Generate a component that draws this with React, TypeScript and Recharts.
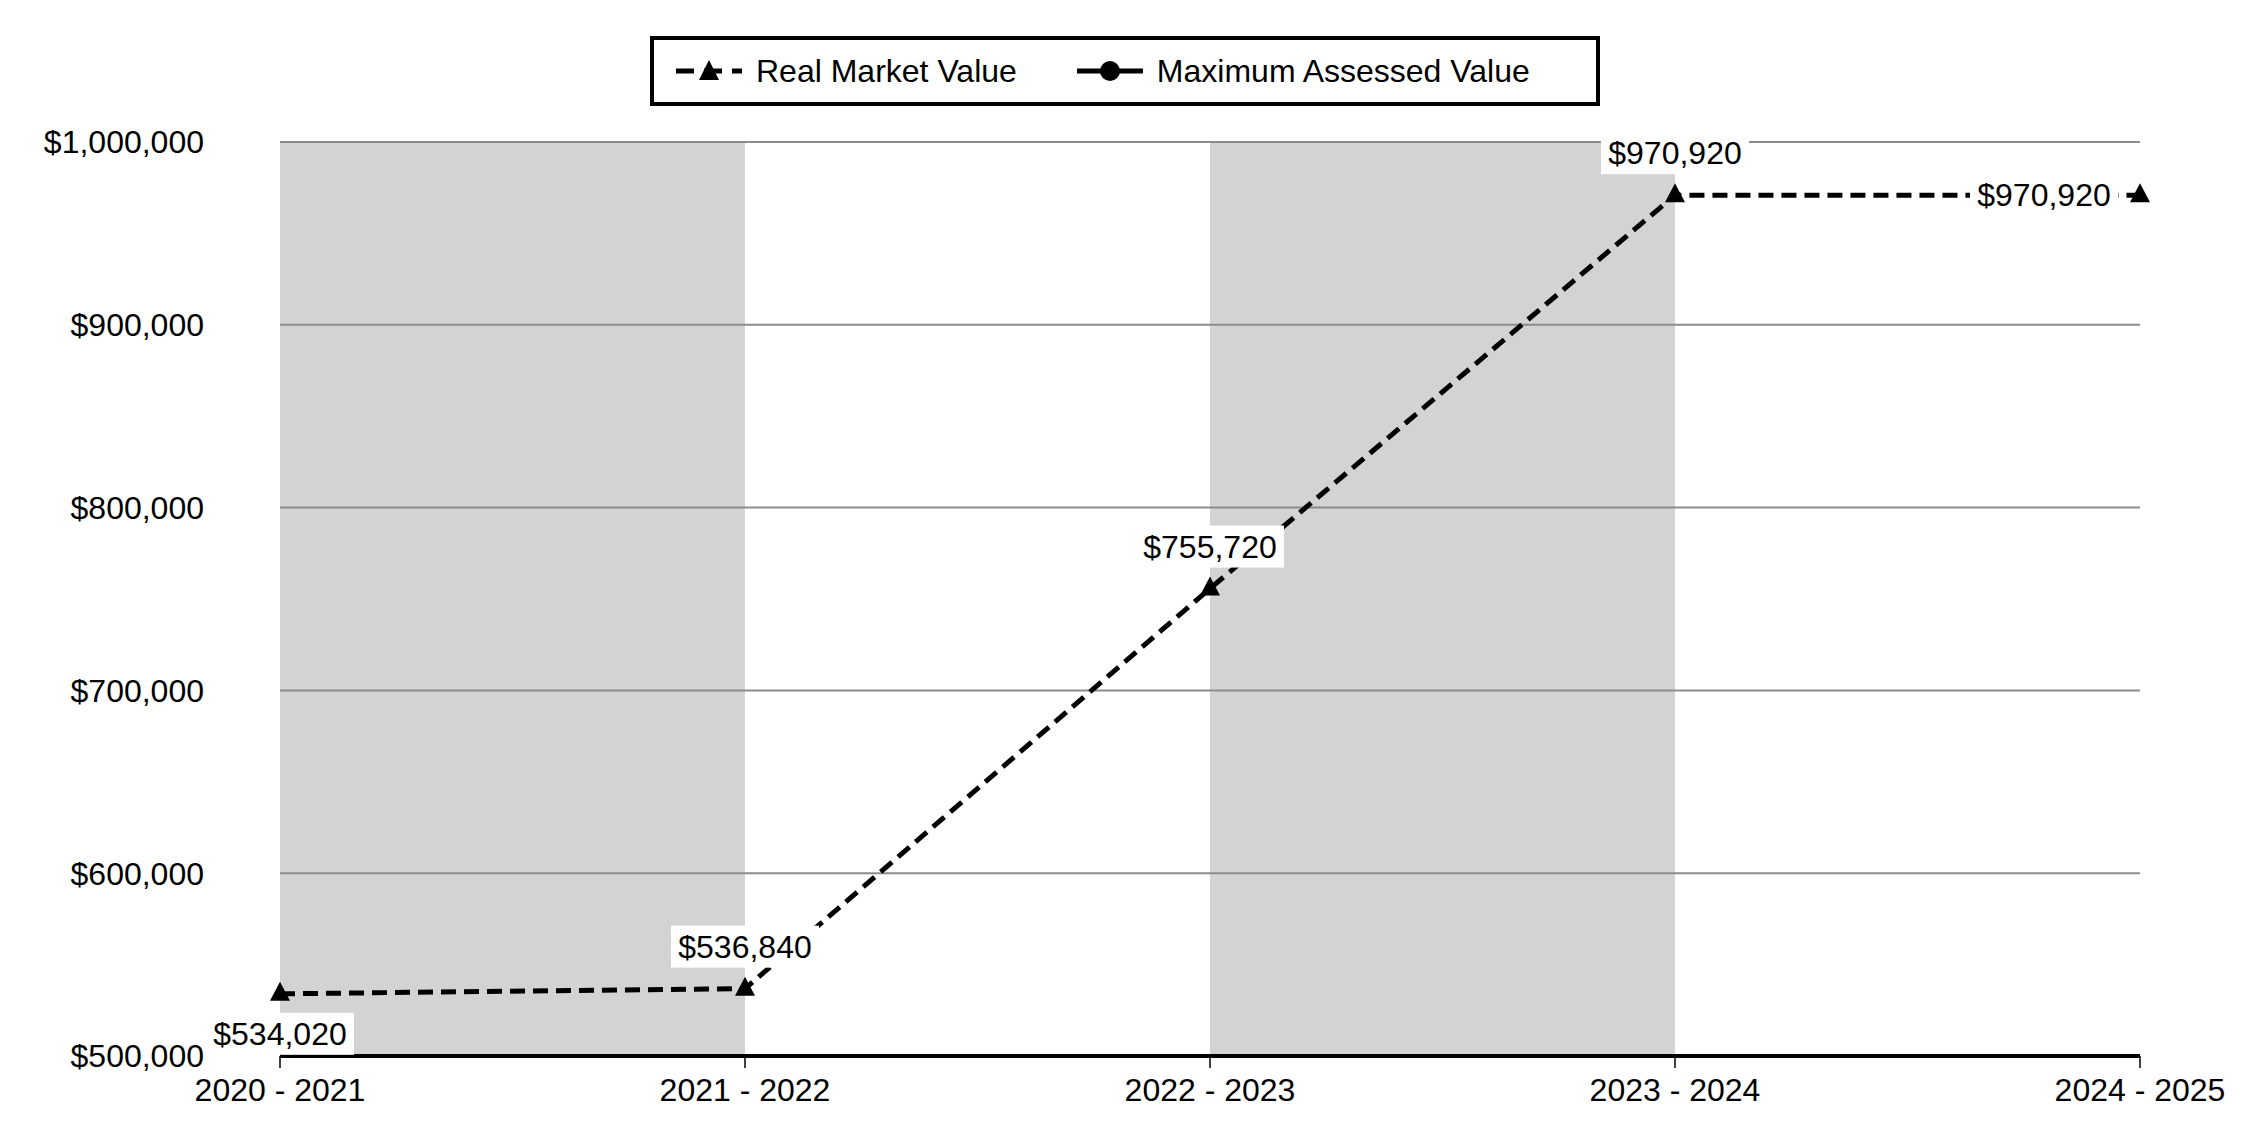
import React from 'react';
import { LineChart, Line, XAxis, YAxis, ReferenceArea, ReferenceLine, LabelList } from 'recharts';

const years = ['2020 - 2021', '2021 - 2022', '2022 - 2023', '2023 - 2024', '2024 - 2025'];
const realMarketValue = [534020, 536840, 755720, 970920, 970920];
const seriesNames = ['Real Market Value', 'Maximum Assessed Value'];
const yTicks = [500000, 600000, 700000, 800000, 900000, 1000000];
// shaded bands between these year pairs
const bands = [
  ['2020 - 2021', '2021 - 2022'],
  ['2022 - 2023', '2023 - 2024'],
];

const data = years.map((year, i) => ({ year, rmv: realMarketValue[i] }));

const FONT = '"Liberation Sans", Arial, sans-serif';

const money = (v: number) => '$' + v.toLocaleString('en-US');

const Triangle = (props: any) => {
  const { cx, cy } = props;
  if (cx == null || cy == null) return null;
  return <path d={`M${cx},${cy - 12} L${cx + 10},${cy + 7} L${cx - 10},${cy + 7} Z`} fill="#000" />;
};

const ValueLabel = (props: any) => {
  const { x, y, value, index } = props;
  const text = money(value);
  const w = 148;
  const h = 42;
  let cx = x;
  let cy = y - 42;
  if (index === 0) cy = y + 40;
  if (index === years.length - 1) {
    cx = x - 30 - 66;
    cy = y;
  }
  return (
    <g>
      <rect x={cx - w / 2} y={cy - h / 2} width={w} height={h} fill="#fff" />
      <text x={cx} y={cy} textAnchor="middle" dominantBaseline="central" fontFamily={FONT} fontSize={32} fill="#000">
        {text}
      </text>
    </g>
  );
};

const LegendBox = () => (
  <div
    style={{
      position: 'absolute',
      left: 650,
      top: 36,
      width: 950,
      height: 70,
      boxSizing: 'border-box',
      border: '4px solid #000',
      background: '#fff',
      fontFamily: FONT,
      fontSize: 32,
      display: 'flex',
      alignItems: 'center',
    }}
  >
    <svg width={66} height={30} style={{ marginLeft: 22 }}>
      <line x1={0} y1={15} x2={66} y2={15} stroke="#000" strokeWidth={5} strokeDasharray="18 10" />
      <path d="M33,4 L43,24 L23,24 Z" fill="#000" />
    </svg>
    <span style={{ marginLeft: 14 }}>{seriesNames[0]}</span>
    <svg width={66} height={30} style={{ marginLeft: 60 }}>
      <line x1={0} y1={15} x2={66} y2={15} stroke="#000" strokeWidth={5} />
      <circle cx={33} cy={15} r={10} fill="#000" />
    </svg>
    <span style={{ marginLeft: 14 }}>{seriesNames[1]}</span>
  </div>
);

export default function App() {
  return (
    <div style={{ position: 'absolute', left: 0, top: 0, width: 2250, height: 1140, background: '#fff' }}>
      <LineChart width={2250} height={1140} data={data} margin={{ top: 142, right: 110, bottom: 24, left: 0 }}>
        {bands.map(([a, b]) => (
          <ReferenceArea key={a} x1={a} x2={b} fill="#d3d3d3" fillOpacity={1} stroke="none" ifOverflow="visible" />
        ))}
        {yTicks.slice(1).map((t) => (
          <ReferenceLine key={t} y={t} stroke="#8c8c8c" strokeWidth={2} />
        ))}
        <XAxis
          dataKey="year"
          height={60}
          stroke="#000"
          axisLine={{ stroke: '#000', strokeWidth: 4 }}
          tickLine={{ stroke: '#000', strokeWidth: 1.5 }}
          tickSize={12}
          tickMargin={10}
          tick={{ fill: '#000', fontSize: 32, fontFamily: FONT }}
          interval={0}
        />
        <YAxis
          width={280}
          domain={[500000, 1000000]}
          ticks={yTicks}
          tickFormatter={money}
          axisLine={false}
          tickLine={false}
          tickSize={0}
          tickMargin={76}
          tick={{ fill: '#000', fontSize: 32, fontFamily: FONT }}
        />
        <Line
          dataKey="rmv"
          name={seriesNames[0]}
          stroke="#000"
          strokeWidth={5}
          strokeDasharray="15 8"
          dot={<Triangle />}
          activeDot={false}
          isAnimationActive={false}
        >
          <LabelList dataKey="rmv" content={<ValueLabel />} />
        </Line>
      </LineChart>
      <LegendBox />
    </div>
  );
}
